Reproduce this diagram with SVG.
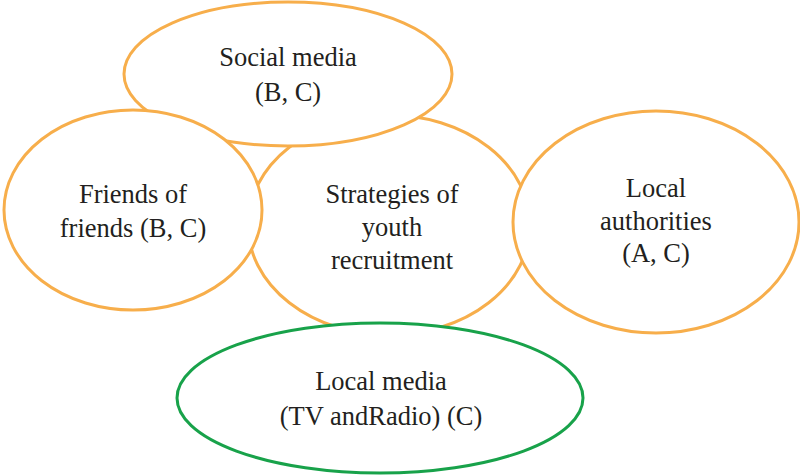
<svg xmlns="http://www.w3.org/2000/svg" width="800" height="475" viewBox="0 0 800 475" font-family="'Liberation Serif', serif" font-size="26.5" text-anchor="middle">
  <style>
    .bubble { fill: #ffffff; stroke: #F7AE4B; stroke-width: 3; }
    .bubble.media { stroke: #18A24A; }
    .label { fill: #231F20; }
  </style>
  <rect width="800" height="475" fill="#ffffff"/>
  <g id="strategies">
    <ellipse class="bubble" cx="389" cy="225" rx="141" ry="110"/>
    <text class="label" x="392" y="203">Strategies of</text>
    <text class="label" x="392" y="236">youth</text>
    <text class="label" x="392" y="269">recruitment</text>
  </g>
  <g id="social-media">
    <ellipse class="bubble" cx="288" cy="74" rx="164" ry="72"/>
    <text class="label" x="288" y="66">Social media</text>
    <text class="label" x="288" y="101">(B, C)</text>
  </g>
  <g id="friends-of-friends">
    <ellipse class="bubble" cx="133" cy="210" rx="129" ry="100"/>
    <text class="label" x="133" y="203">Friends of</text>
    <text class="label" x="133" y="237">friends (B, C)</text>
  </g>
  <g id="local-authorities">
    <ellipse class="bubble" cx="656" cy="222" rx="143" ry="111"/>
    <text class="label" x="656" y="197">Local</text>
    <text class="label" x="656" y="230">authorities</text>
    <text class="label" x="656" y="262">(A, C)</text>
  </g>
  <g id="local-media">
    <ellipse class="bubble media" cx="380" cy="398" rx="203" ry="75"/>
    <text class="label" x="381" y="390">Local media</text>
    <text class="label" x="381" y="425">(TV andRadio) (C)</text>
  </g>
  <g id="connectors"></g>
</svg>
